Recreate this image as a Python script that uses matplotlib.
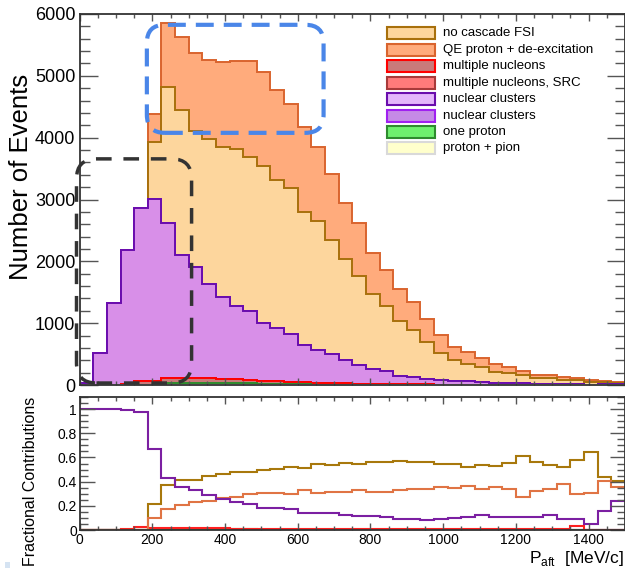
import numpy as np
import matplotlib
matplotlib.use("Agg")
import matplotlib.pyplot as plt
from matplotlib.patches import Rectangle, FancyBboxPatch
from matplotlib.ticker import MultipleLocator, FuncFormatter
from matplotlib.transforms import IdentityTransform

plt.rcParams['font.family'] = ['Liberation Sans', 'DejaVu Sans']
plt.rcParams['mathtext.fontset'] = 'custom'
plt.rcParams['mathtext.rm'] = 'Liberation Sans'

# 40 bins of 37.5 MeV/c between 0 and 1500
edges = np.linspace(0, 1500, 41)

labels = ["no cascade FSI", "QE proton + de-excitation", "multiple nucleons",
          "multiple nucleons, SRC", "nuclear clusters", "nuclear clusters",
          "one proton", "proton + pion"]

no_cascade = [0, 0, 0, 0, 0, 923, 2201, 2342, 2203, 2345, 2423, 2531, 2500, 2526,
              2395, 2357, 2160, 2090, 1845, 1634, 1440, 1202, 1054, 884, 760, 600,
              440, 340, 280, 230, 178, 163, 137, 94, 86, 70, 67, 52, 30, 22]
qe_deex = [0, 0, 0, 0, 0, 437, 1035, 1181, 1254, 1278, 1378, 1416, 1537, 1530,
           1462, 1363, 1375, 1194, 1070, 917, 863, 664, 586, 513, 459, 362,
           290, 215, 195, 145, 120, 100, 62, 53, 54, 51, 34, 25, 28, 19]
multi_nucl = [0, 0, 0, 20, 60, 70, 85, 85, 75, 70, 65, 60, 55, 50, 45, 40, 35, 30,
              27, 24, 20, 17, 14, 12, 10, 8, 6, 5, 4, 3, 3, 2, 2, 1, 1, 1, 4, 0, 0, 0]
multi_src = [0] * 40
clusters = [40, 515, 1320, 2170, 2808, 2945, 2506, 1983, 1795, 1520, 1320, 1195,
            1115, 939, 857, 773, 600, 528, 472, 371, 300, 245, 205, 137, 119, 92,
            74, 60, 58, 53, 37, 31, 24, 18, 20, 12, 10, 4, 11, 13]
clusters_b = [0] * 40
one_proton = [0, 0, 0, 0, 0, 0, 25, 35, 40, 40, 35, 30, 25, 20, 15, 12, 10, 8, 6,
              5, 4, 3, 2, 2, 1, 1, 1, 0, 0, 0, 0, 0, 0, 0, 0, 0, 0, 0, 0, 0]
proton_pion = [0] * 40

series = [no_cascade, qe_deex, multi_nucl, multi_src, clusters, clusters_b,
          one_proton, proton_pion]
face = ['#fdd69d', '#ffab7c', '#c97a7a', '#ff7b7b', '#e4b6fb', '#c58ae6',
        '#6ef06e', '#ffffcc']
edge = ['#a8700c', '#d9642e', '#ff0000', '#a83a3a', '#6a0dad', '#a020f0',
        '#2e8b2e', '#d9d9d9']
line_col = ['#a8780c', '#e07444', '#ff2020', '#a83a3a', '#7b1fa2', '#a020f0',
            '#3a9a3a', '#e0e0c0']
hist_face = list(face)
hist_face[4] = '#d88fe8'

# stacking order, bottom to top
stack = [7, 6, 2, 3, 4, 5, 0, 1]

W, H = 625, 568
fig = plt.figure(figsize=(W / 100, H / 100), dpi=100)


def add_axes_px(left, top, right, bottom):
    return fig.add_axes([left / W, 1 - bottom / H, (right - left) / W, (bottom - top) / H])


ax = add_axes_px(79.6, 14, 625, 385)
ax2 = add_axes_px(79.6, 397, 625, 530)

vals = np.array(series, dtype=float)
cum = np.cumsum(vals[stack], axis=0)
for j in reversed(range(len(stack))):
    i = stack[j]
    ax.stairs(cum[j], edges, baseline=0, fill=True, facecolor=hist_face[i],
              edgecolor=edge[i], lw=1.4)

ax.set_xlim(0, 1500)
ax.set_ylim(0, 6000)
ax.yaxis.set_major_locator(MultipleLocator(1000))
ax.yaxis.set_minor_locator(MultipleLocator(200))
ax.xaxis.set_major_locator(MultipleLocator(200))
ax.xaxis.set_minor_locator(MultipleLocator(50))

# fractional contributions
total = vals.sum(axis=0)
frac = np.divide(vals, total, out=np.zeros_like(vals), where=total > 0)
for i in [7, 5, 3, 6, 2, 0, 1, 4]:
    ax2.stairs(frac[i], edges, baseline=None, color=line_col[i], lw=1.5)

ax2.set_xlim(0, 1500)
ax2.set_ylim(0, 1.1)
ax2.yaxis.set_major_locator(MultipleLocator(0.2))
ax2.yaxis.set_minor_locator(MultipleLocator(0.05))
ax2.xaxis.set_major_locator(MultipleLocator(200))
ax2.xaxis.set_minor_locator(MultipleLocator(50))
ax2.yaxis.set_major_formatter(FuncFormatter(lambda v, p: f"{v:g}"))
ax2.set_yticks([0, 0.2, 0.4, 0.6, 0.8, 1.0])

for a in (ax, ax2):
    for s in a.spines.values():
        s.set_color('#333333')
        s.set_linewidth(1.3)
    a.tick_params(which='both', direction='in', top=True, right=True,
                  color='#555555', width=1)

ax.tick_params(axis='x', labelbottom=False)
ax.tick_params(axis='y', which='major', length=13, labelsize=13, pad=3)
ax.tick_params(axis='y', which='minor', length=7)
ax.tick_params(axis='x', which='major', length=5)
ax.tick_params(axis='x', which='minor', length=3)

ax2.tick_params(axis='y', which='major', length=11, labelsize=10, pad=2)
ax2.tick_params(axis='y', which='minor', length=6)
ax2.tick_params(axis='x', which='major', length=5, labelsize=10, pad=2)
ax2.tick_params(axis='x', which='minor', length=3)

# legend
for k in range(len(labels)):
    yc = (385 - (33.3 + 16.45 * k)) / 371
    ax.add_patch(Rectangle((0.5645, yc - 0.0162), 0.0871, 0.0323,
                           transform=ax.transAxes, facecolor=face[k],
                           edgecolor=edge[k], lw=1.5, zorder=6))
    ax.text(0.6654, yc, labels[k], transform=ax.transAxes, fontsize=9.5,
            va='center', ha='left', zorder=6)

fig.text(21 / W, 1 - 177 / H, "Number of Events", rotation=90, fontsize=18.5,
         ha='center', va='center')
fig.text(31 / W, 1 - 481 / H, "Fractional Contributions", rotation=90,
         fontsize=11.5, ha='center', va='center')
fig.text(624 / W, 1 - 558 / H, r"P$_{\mathrm{aft}}$  [MeV/c]", fontsize=12.5,
         ha='right', va='center')

# highlighted regions (MeV/c, events)
fig.canvas.draw()
boxes = [((185, 4078), (671, 5825), '#4a86e8', 3.0, (0, (4.3, 2.4)), 18),
         ((-8.5, 32), (308, 3657), '#333333', 2.5, (0, (4.5, 3.4)), 20)]
for (p0, p1, col, lw, ls, r) in boxes:
    (x0, y0), (x1, y1) = ax.transData.transform([p0, p1])
    fig.add_artist(FancyBboxPatch((x0, y0), x1 - x0, y1 - y0,
                                  boxstyle=f"round,pad=0,rounding_size={r}",
                                  transform=IdentityTransform(), fill=False,
                                  edgecolor=col, lw=lw, linestyle=ls,
                                  clip_on=False, zorder=8))

fig.add_artist(Rectangle((5 / W, 0), 5 / W, 6 / H, transform=fig.transFigure,
                         facecolor='#d5e3f2', edgecolor='none'))

fig.savefig("out.png", dpi=100)
